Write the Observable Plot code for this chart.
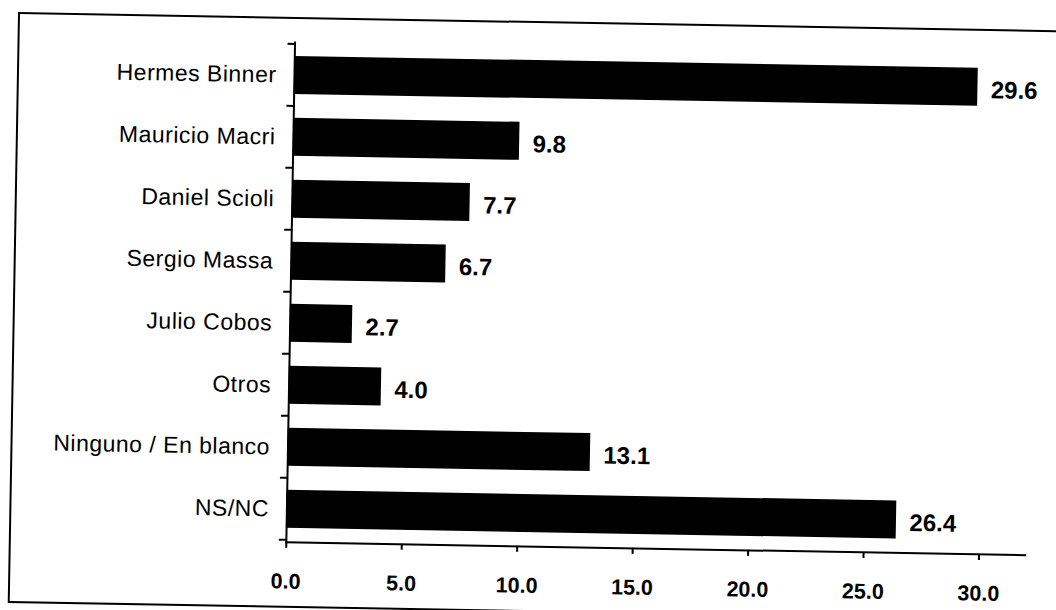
<!DOCTYPE html>
<html><head><meta charset="utf-8">
<script src="https://cdn.jsdelivr.net/npm/d3@7"></script>
<script src="https://cdn.jsdelivr.net/npm/@observablehq/plot@0.6"></script>
<style>
html,body{margin:0;padding:0;background:#fff;}
#page{position:relative;width:1056px;height:610px;overflow:hidden;background:#fff;}
#rot{position:absolute;left:0;top:0;width:1056px;height:610px;transform:rotate(1deg);transform-origin:528px 305px;}
#border{position:absolute;left:13px;top:21px;width:1100px;height:587px;border:2px solid #000;}
#chart{position:absolute;left:0;top:0;}
#chart svg{overflow:visible;}
#chart g[aria-label="y-axis tick label"] text{letter-spacing:0.5px;}
</style></head><body>
<div id="page"><div id="rot"><div id="border"></div><div id="chart"></div></div></div>
<script>
const categories = ["Hermes Binner", "Mauricio Macri", "Daniel Scioli", "Sergio Massa", "Julio Cobos", "Otros", "Ninguno / En blanco", "NS/NC"];
const values = [29.6, 9.8, 7.7, 6.7, 2.7, 4.0, 13.1, 26.4];
const xTicks = [0, 5, 10, 15, 20, 25, 30];

const data = categories.map((c, i) => ({category: c, value: values[i]}));

const chart = Plot.plot({
  width: 1056,
  height: 610,
  marginLeft: 290,
  marginRight: 27,
  marginTop: 46,
  marginBottom: 64,
  style: {background: "transparent", fontFamily: "'Liberation Sans', Arial, sans-serif", color: "#000"},
  x: {domain: [0, 32]},
  y: {domain: categories, paddingInner: 0.38, paddingOuter: 0.19},
  marks: [
    Plot.barX(data, {y: "category", x: "value", fill: "#000"}),
    Plot.text(data, {y: "category", x: "value", text: d => d.value.toFixed(1), dx: 13, dy: 3, textAnchor: "start", fontSize: 24, fontWeight: "bold", fill: "#000"}),
    Plot.axisY({tickSize: 0, tickPadding: 18, fontSize: 23, stroke: "#000", strokeWidth: 0.5, label: null}),
    Plot.axisX({ticks: xTicks, tickFormat: d3.format(".1f"), tickSize: 6, tickPadding: 25, fontSize: 21.5, fontWeight: "bold", strokeWidth: 2, label: null}),
    Plot.frame({anchor: "left", strokeWidth: 2}),
    Plot.frame({anchor: "bottom", strokeWidth: 2})
  ]
});

// Excel-style tick marks at the band boundaries of the y axis
const ys = chart.scale("y");
const xs = chart.scale("x");
const step = ys.step ?? (ys.bandwidth / (1 - 0.38));
const gap = step - ys.bandwidth;
const bounds = categories.map(c => ys.apply(c) - gap / 2);
bounds.push(ys.apply(categories[categories.length - 1]) + ys.bandwidth + gap / 2);
const x0 = xs.apply(0);
d3.select(chart).append("g")
  .attr("stroke", "#000").attr("stroke-width", 2)
  .selectAll("line").data(bounds).join("line")
  .attr("x1", x0 - 7).attr("x2", x0)
  .attr("y1", d => d).attr("y2", d => d);

document.getElementById("chart").appendChild(chart);
</script>
</body></html>
